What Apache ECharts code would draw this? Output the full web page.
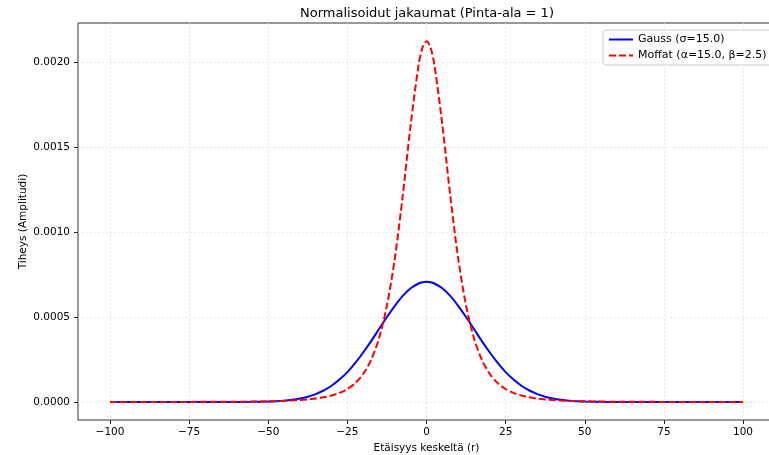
<!DOCTYPE html>
<html>
<head>
<meta charset="utf-8">
<script src="https://cdn.jsdelivr.net/npm/echarts@6/dist/echarts.min.js"></script>
<style>html,body{margin:0;padding:0;background:#fff}#c{width:769px;height:455px}</style>
</head>
<body>
<div id="c"></div>
<script>
var xs = [-100,-90,-80,-70,-60,-55,-50,-47.5,-45,-42.5,-40,-37.5,-35,-32.5,-30,-27.5,-25,-22.5,-20,-17.5,-15,-12.5,-10,-7.5,-5,-2.5,-1.25,0,1.25,2.5,5,7.5,10,12.5,15,17.5,20,22.5,25,27.5,30,32.5,35,37.5,40,42.5,45,47.5,50,55,60,70,80,90,100];
var gauss = [0,0,0,0,0.0000002,0.0000009,0.0000027,0.0000047,0.0000079,0.0000128,0.0000202,0.0000311,0.0000465,0.0000676,0.0000957,0.000132,0.000176,0.000230,0.000291,0.000358,0.000429,0.000500,0.000566,0.000624,0.000669,0.000697,0.000705,0.000707,0.000705,0.000697,0.000669,0.000624,0.000566,0.000500,0.000429,0.000358,0.000291,0.000230,0.000176,0.000132,0.0000957,0.0000676,0.0000465,0.0000311,0.0000202,0.0000128,0.0000079,0.0000047,0.0000027,0.0000009,0.0000002,0,0,0,0];
var moffat = [0.0000002,0.0000003,0.0000005,0.0000009,0.0000018,0.0000027,0.0000042,0.0000053,0.0000067,0.0000087,0.0000113,0.0000150,0.0000201,0.0000274,0.0000380,0.0000534,0.0000765,0.000111,0.000165,0.000248,0.000375,0.000568,0.000846,0.001215,0.001631,0.001982,0.002086,0.002122,0.002086,0.001982,0.001631,0.001215,0.000846,0.000568,0.000375,0.000248,0.000165,0.000111,0.0000765,0.0000534,0.0000380,0.0000274,0.0000201,0.0000150,0.0000113,0.0000087,0.0000067,0.0000053,0.0000042,0.0000027,0.0000018,0.0000009,0.0000005,0.0000003,0.0000002];
var xTicks = {min: -100, max: 100, step: 25};
var yTicks = {min: 0, max: 0.002, step: 0.0005};
var names = ['Gauss (σ=15.0)', 'Moffat (α=15.0, β=2.5)'];
var titleText = 'Normalisoidut jakaumat (Pinta-ala = 1)';
var xName = 'Etäisyys keskeltä (r)';
var yName = 'Tiheys (Amplitudi)';

var FONT = 'DejaVu Sans';
var gridLine = {show: true, lineStyle: {color: '#d9d9d9', type: [1.5, 2.5], width: 0.8}};
function pairs(v){ return xs.map(function(x,i){ return [x, v[i]]; }); }

var chart = echarts.init(document.getElementById('c'), null, {renderer: 'canvas'});
chart.setOption({
  animation: false,
  backgroundColor: '#fff',
  textStyle: {fontFamily: FONT},
  title: {text: titleText, left: 422, textAlign: 'center', top: 2,
    textStyle: {fontFamily: FONT, fontSize: 13, fontWeight: 'normal', color: '#000'}},
  legend: {
    data: names, orient: 'vertical', left: 603, top: 30,
    itemWidth: 24, itemHeight: 10, itemGap: 5,
    padding: [4, 6, 4, 5],
    itemStyle: {opacity: 0},
    backgroundColor: 'rgba(255,255,255,0.8)', borderColor: '#cccccc', borderWidth: 1, borderRadius: 3,
    textStyle: {fontFamily: FONT, fontSize: 11, color: '#000'}
  },
  grid: [
    {left: 78, right: -6, top: 23, bottom: 35, outerBoundsMode: 'none', show: true, borderColor: '#333', borderWidth: 1, backgroundColor: 'transparent'},
    {left: 78, right: -6, top: 62, bottom: 53, outerBoundsMode: 'none'},
    {left: 110, right: 26, top: 62, bottom: 53, outerBoundsMode: 'none'},
    {left: 110, right: 26, top: 23, bottom: 35, outerBoundsMode: 'none'}
  ],
  xAxis: [
    {gridIndex: 0, type: 'value', min: -110, max: 110, show: false},
    {gridIndex: 1, type: 'value', min: -110, max: 110, show: false},
    {gridIndex: 2, type: 'value', min: xTicks.min, max: xTicks.max, show: false},
    {gridIndex: 3, type: 'value', min: xTicks.min, max: xTicks.max, interval: xTicks.step,
      axisLine: {show: false, onZero: false},
      axisTick: {show: true, length: 4, lineStyle: {color: '#222'}},
      axisLabel: {margin: 7, fontFamily: FONT, fontSize: 10.5, color: '#000',
        formatter: function(v){ return String(v).replace('-', '\u2212'); }},
      splitLine: gridLine,
      name: xName, nameLocation: 'middle', nameGap: 22,
      nameTextStyle: {fontFamily: FONT, fontSize: 10.5, color: '#000'}}
  ],
  yAxis: [
    {gridIndex: 0, type: 'value', min: -0.000106, max: 0.002228,
      axisLine: {show: false, onZero: false}, axisTick: {show: false}, axisLabel: {show: false}, splitLine: {show: false},
      name: yName, nameLocation: 'middle', nameGap: 49,
      nameTextStyle: {fontFamily: FONT, fontSize: 10.5, color: '#000'}},
    {gridIndex: 1, type: 'value', min: yTicks.min, max: yTicks.max, interval: yTicks.step,
      axisLine: {show: false, onZero: false},
      axisTick: {show: true, length: 4, lineStyle: {color: '#222'}},
      axisLabel: {margin: 8, fontFamily: FONT, fontSize: 10.5, color: '#000',
        formatter: function(v){ return v.toFixed(4); }},
      splitLine: gridLine},
    {gridIndex: 2, type: 'value', min: yTicks.min, max: yTicks.max, show: false},
    {gridIndex: 3, type: 'value', min: 0, max: 1, show: false}
  ],
  series: [
    {name: names[0], type: 'line', xAxisIndex: 2, yAxisIndex: 2, data: pairs(gauss),
      showSymbol: false, symbol: 'none', smooth: 0.3, clip: false,
      lineStyle: {color: '#0000ff', width: 2}, itemStyle: {color: '#0000ff'}, z: 3},
    {name: names[1], type: 'line', xAxisIndex: 2, yAxisIndex: 2, data: pairs(moffat),
      showSymbol: false, symbol: 'none', smooth: 0.3, clip: false,
      lineStyle: {color: '#ff0000', width: 2, type: [7, 3]}, itemStyle: {color: '#ff0000'}, z: 4}
  ]
});
</script>
</body>
</html>
